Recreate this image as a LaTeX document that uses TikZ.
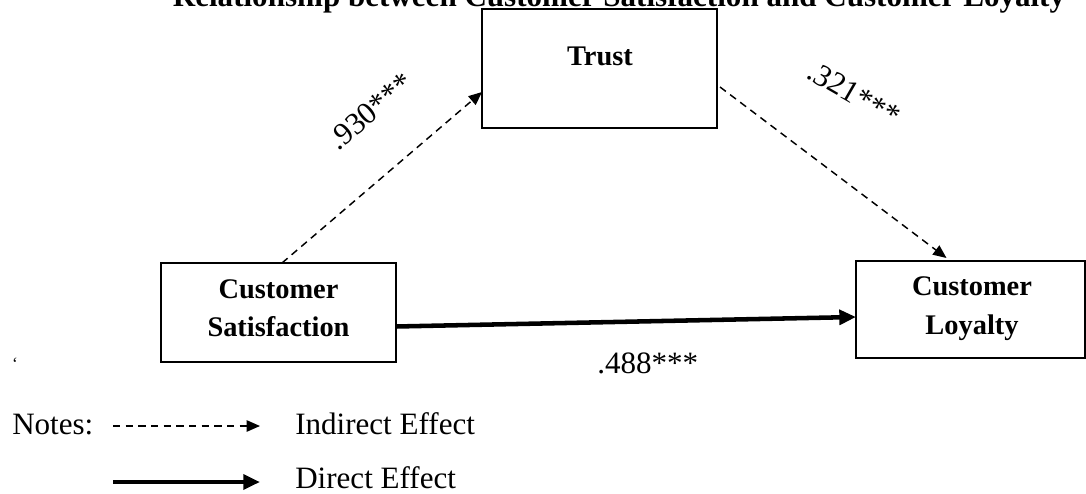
\documentclass[tikz,border=0pt]{standalone}
\usepackage{fontspec}
\setmainfont{Liberation Serif}
\usetikzlibrary{arrows.meta,calc}
\begin{document}
\begin{tikzpicture}[x=0.75pt,y=-0.75pt,
  box/.style={draw, line width=1.3pt, inner sep=0pt, outer sep=0pt},
  boxlbl/.style={inner sep=0pt, font=\fontsize{21.3}{25}\selectfont\bfseries},
  ttl/.style={inner sep=0pt, font=\fontsize{23.3}{28}\selectfont\bfseries},
  txt/.style={inner sep=0pt, font=\fontsize{23.3}{28}\selectfont},
  indirect/.style={line width=1.1pt, dash pattern=on 5.5pt off 4pt,
    -{Triangle[length=10pt,width=8.5pt]}},
  direct/.style={line width=3.4pt, -{Triangle[length=12.5pt,width=11pt]}}]
\useasboundingbox (0,0) rectangle (1086,493);

% heading (runs off the top edge)
\node[ttl, anchor=base] (title) at (619,6)
  {Relationship between Customer Satisfaction and Customer Loyalty};

% construct boxes
\node[box, minimum width=176.25pt, minimum height=89.25pt] (trust) at (599.5,68.5) {};
\node[box, minimum width=176.25pt, minimum height=74.25pt] (sat) at (278.5,312.5) {};
\node[box, minimum width=171.75pt, minimum height=72.75pt] (loy) at (970.5,309.5) {};

\node[boxlbl, anchor=base] (trustA) at (600,65) {Trust};
\node[boxlbl, anchor=base] (satA) at (278.5,298) {Customer};
\node[boxlbl, anchor=base] (satB) at (278.5,336) {Satisfaction};
\node[boxlbl, anchor=base] (loyA) at (972,295) {Customer};
\node[boxlbl, anchor=base] (loyB) at (972,334) {Loyalty};

% paths
\draw[indirect] ($(sat.north)+(3.5,0)$) -- ($(trust.west)+(0,23.5)$);
\draw[indirect] ($(trust.east)+(3,18.5)$) -- ($(loy.north)+(-24,-3)$);
\draw[direct] ($(sat.east)+(0,14)$) -- ($(loy.west)+(0,7.5)$);

% coefficients
\node[txt, rotate=40, anchor=base west] (cA) at (338,152) {.930***};
\node[txt, rotate=-30, anchor=base west] (cB) at (805,77) {.321***};
\node[txt, anchor=base west] (cC) at (597,373) {.488***};
\node[inner sep=0pt, font=\fontsize{13}{15}\selectfont] (mark) at (15,364) {‘};

% legend
\node[txt, anchor=base west] (notes) at (12,434) {Notes:};
\coordinate (indA) at (113,426);
\coordinate (indB) at (260,426);
\coordinate (dirA) at (113,482);
\coordinate (dirB) at (260,482);
\draw[indirect] (indA) -- (indB);
\draw[direct] (dirA) -- (dirB);
\node[txt, anchor=base west] (indT) at (295,434) {Indirect Effect};
\node[txt, anchor=base west] (dirT) at (295,488) {Direct Effect};
\end{tikzpicture}
\end{document}
